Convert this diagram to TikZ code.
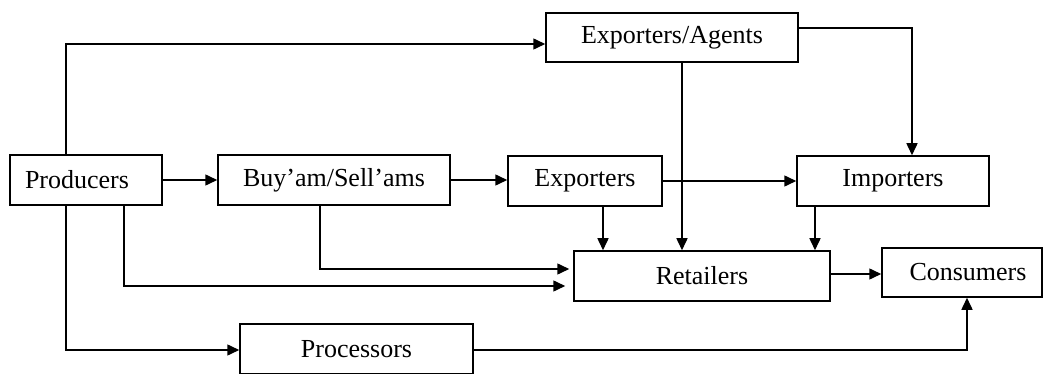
\documentclass[tikz,border=0pt]{standalone}
\usepackage{fontspec}
\setmainfont{Liberation Serif}
\usetikzlibrary{arrows.meta}

\tikzset{
  box/.style={draw, line width=0.75pt, minimum height=25pt, inner sep=0pt,
    font=\fontsize{13}{15}\selectfont},
  flow/.style={->, line width=0.75pt}
}

\begin{document}
\begin{tikzpicture}[x=0.5pt, y=-0.5pt, >={Triangle[length=6pt,width=5.5pt]}]
\useasboundingbox (0,0) rectangle (1051,374);
% boxes
\node[box, minimum width=76pt] (prod) at (86,180) {Producers\hspace*{9pt}};
\node[box, minimum width=116pt] (buy) at (334,180) {Buy'am/Sell'ams};
\node[box, minimum width=77pt] (exp) at (585,181) {Exporters};
\node[box, minimum width=96pt] (imp) at (893,181) {Importers};
\node[box, minimum width=126pt, minimum height=24.5pt] (agents) at (672,37.5) {Exporters/Agents};
\node[box, minimum width=128pt] (ret) at (702,276) {Retailers};
\node[box, minimum width=80pt, minimum height=24.5pt] (cons) at (962,272.5) {\hspace*{6pt}Consumers};
\node[box, minimum width=116.5pt] (proc) at (356.5,349) {Processors};
% x positions of the vertical runs
\coordinate (pa) at (66,0);
\coordinate (pb) at (124,0);
\coordinate (ba) at (320,0);
\coordinate (ea) at (603,0);
\coordinate (aa) at (682,0);
\coordinate (ia) at (815,0);
\coordinate (ai) at (912,0);
\coordinate (ca) at (967,0);
\coordinate (ya) at (0,44);
\coordinate (yb) at (0,28);
\coordinate (yc) at (0,269);
\coordinate (yd) at (0,286);
\coordinate (ye) at (0,350);
\coordinate (yf) at (0,274);
% connectors
\draw[flow] (prod.north -| pa) |- (agents.west |- ya);
\draw[flow] (agents.east |- yb) -| (imp.north -| ai);
\draw[flow] (agents.south -| aa) -- (ret.north -| aa);
\draw[flow] (prod.east) -- (buy.west);
\draw[flow] (buy.east) -- (buy.east -| exp.west);
\draw[flow] (exp.east) -- (imp.west);
\draw[flow] (exp.south -| ea) -- (ret.north -| ea);
\draw[flow] (imp.south -| ia) -- (ret.north -| ia);
\draw[flow] (buy.south -| ba) |- ([xshift=-2pt]ret.west |- yc);
\draw[flow] (prod.south -| pb) |- ([xshift=-4pt]ret.west |- yd);
\draw[flow] (prod.south -| pa) |- (proc.west |- ye);
\draw[flow] (proc.east |- ye) -| (cons.south -| ca);
\draw[flow] (ret.east |- yf) -- (cons.west |- yf);
\end{tikzpicture}
\end{document}
